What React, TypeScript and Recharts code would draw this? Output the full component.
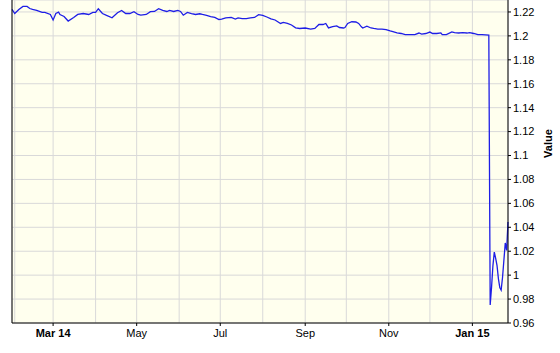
import { CartesianGrid, Line, LineChart, XAxis, YAxis } from "recharts";

const dates = [
  "2014-01-30", "2014-02-01", "2014-02-04", "2014-02-07", "2014-02-10", "2014-02-12",
  "2014-02-14", "2014-02-17", "2014-02-21", "2014-02-23", "2014-02-27", "2014-03-01",
  "2014-03-03", "2014-03-05", "2014-03-06", "2014-03-09", "2014-03-12", "2014-03-16",
  "2014-03-19", "2014-03-23", "2014-03-27", "2014-03-30", "2014-04-01", "2014-04-03",
  "2014-04-06", "2014-04-09", "2014-04-13", "2014-04-17", "2014-04-20", "2014-04-23",
  "2014-04-26", "2014-04-29", "2014-05-02", "2014-05-04", "2014-05-08", "2014-05-11",
  "2014-05-14", "2014-05-17", "2014-05-20", "2014-05-23", "2014-05-25", "2014-05-28",
  "2014-05-31", "2014-06-02", "2014-06-04", "2014-06-07", "2014-06-10", "2014-06-13",
  "2014-06-16", "2014-06-18", "2014-06-21", "2014-06-24", "2014-06-27", "2014-06-30",
  "2014-07-02", "2014-07-05", "2014-07-09", "2014-07-12", "2014-07-14", "2014-07-17",
  "2014-07-20", "2014-07-23", "2014-07-26", "2014-07-29", "2014-08-01", "2014-08-04",
  "2014-08-07", "2014-08-10", "2014-08-14", "2014-08-16", "2014-08-19", "2014-08-22",
  "2014-08-25", "2014-08-28", "2014-09-01", "2014-09-05", "2014-09-08", "2014-09-11",
  "2014-09-14", "2014-09-16", "2014-09-18", "2014-09-21", "2014-09-24", "2014-09-26",
  "2014-09-29", "2014-09-30", "2014-10-02", "2014-10-05", "2014-10-08", "2014-10-10",
  "2014-10-12", "2014-10-13", "2014-10-16", "2014-10-19", "2014-10-21", "2014-10-24",
  "2014-10-27", "2014-10-30", "2014-11-02", "2014-11-04", "2014-11-07", "2014-11-10",
  "2014-11-13", "2014-11-17", "2014-11-20", "2014-11-23", "2014-11-25", "2014-11-28",
  "2014-12-01", "2014-12-03", "2014-12-06", "2014-12-09", "2014-12-10", "2014-12-13",
  "2014-12-17", "2014-12-19", "2014-12-22", "2014-12-25", "2014-12-28", "2014-12-30",
  "2015-01-02", "2015-01-05", "2015-01-08", "2015-01-13", "2015-01-14", "2015-01-15",
  "2015-01-16", "2015-01-17", "2015-01-18", "2015-01-19", "2015-01-20", "2015-01-21",
  "2015-01-22", "2015-01-23", "2015-01-24", "2015-01-25", "2015-01-26", "2015-01-27",
];

const values = [
  1.2221, 1.2187, 1.2221, 1.2246, 1.2246, 1.2229,
  1.2221, 1.2213, 1.2196, 1.2196, 1.2179, 1.2133,
  1.2187, 1.2198, 1.2179, 1.2162, 1.2124, 1.2154,
  1.2179, 1.2187, 1.2179, 1.2196, 1.2196, 1.2227,
  1.2187, 1.2171, 1.2151, 1.2193, 1.2213, 1.2187,
  1.2187, 1.2202, 1.2179, 1.2173, 1.2179, 1.2202,
  1.2204, 1.2227, 1.2213, 1.2204, 1.2213, 1.2204,
  1.2213, 1.2204, 1.2173, 1.2196, 1.2187, 1.2179,
  1.2185, 1.2179, 1.2171, 1.2162, 1.2154, 1.2137,
  1.2141, 1.2151, 1.2154, 1.2141, 1.215, 1.2145,
  1.2145, 1.215, 1.2154, 1.2177, 1.2171, 1.2158,
  1.2143, 1.2133, 1.2104, 1.2112, 1.2104, 1.2091,
  1.2067, 1.2062, 1.2066, 1.2057, 1.2062, 1.2095,
  1.2095, 1.2104, 1.2067, 1.2078, 1.2083, 1.207,
  1.2066, 1.207, 1.2104, 1.2118, 1.2116, 1.2104,
  1.2076, 1.2066, 1.2081, 1.2066, 1.2062, 1.2057,
  1.2057, 1.2053, 1.2041, 1.2036, 1.2025, 1.202,
  1.2011, 1.2011, 1.2011, 1.2024, 1.2015, 1.202,
  1.2032, 1.202, 1.202, 1.2025, 1.2011, 1.2011,
  1.2034, 1.2028, 1.2024, 1.2028, 1.2024, 1.2028,
  1.202, 1.2011, 1.2011, 1.2007, 0.975, 0.99,
  1.008, 1.0193, 1.014, 1.008, 0.997, 0.9897,
  0.9875, 0.998, 1.0124, 1.0269, 1.0207, 1.0445,
];

const tickDates = [
  "2014-02-01", "2014-03-01", "2014-04-01", "2014-05-01", "2014-06-01", "2014-07-01",
  "2014-08-01", "2014-09-01", "2014-10-01", "2014-11-01", "2014-12-01", "2015-01-01",
];
const tickLabels = ["", "Mar 14", "", "May", "", "Jul", "", "Sep", "", "Nov", "", "Jan 15"];

const yTicks = [0.96, 0.98, 1, 1.02, 1.04, 1.06, 1.08, 1.1, 1.12, 1.14, 1.16, 1.18, 1.2, 1.22];

const data = dates.map((d, i) => ({ t: Date.parse(d), value: values[i] }));
const xTicks = tickDates.map((d) => Date.parse(d));

const FONT = "'Liberation Sans', Arial, sans-serif";

function MonthTick(props: any) {
  const { x, y, payload } = props;
  const label = tickLabels[xTicks.indexOf(payload.value)];
  if (!label) return null;
  return (
    <g>
      <line x1={x} x2={x} y1={y} y2={y + 3} stroke="#000" />
      <text
        x={x}
        y={y + 14}
        textAnchor="middle"
        fontSize={11}
        fontFamily={FONT}
        fontWeight={/\d/.test(label) ? "bold" : "normal"}
        fill="#000"
      >
        {label}
      </text>
    </g>
  );
}

function ValueLabel({ viewBox }: any) {
  const cx = viewBox.x + viewBox.width - 12;
  const cy = viewBox.y + viewBox.height / 2 - 18;
  return (
    <text
      x={cx}
      y={cy}
      transform={`rotate(-90 ${cx} ${cy})`}
      textAnchor="middle"
      dominantBaseline="central"
      fontSize={11}
      fontWeight="bold"
      fontFamily={FONT}
      fill="#000"
    >
      Value
    </text>
  );
}

export default function App() {
  return (
    <div style={{ position: "absolute", left: 0, top: 0, width: 560, height: 353, background: "#fff" }}>
      <LineChart width={560} height={353} data={data} margin={{ top: 0, right: 0, bottom: 0, left: 0 }}>
        <CartesianGrid yAxisId="r" fill="#FFFFEE" stroke="#D9D9D9" />
        <XAxis
          dataKey="t"
          type="number"
          domain={["dataMin", "dataMax"]}
          ticks={xTicks}
          interval={0}
          height={30}
          tickSize={0}
          tickMargin={0}
          tickLine={false}
          axisLine={{ stroke: "#000" }}
          tick={<MonthTick />}
        />
        <YAxis
          yAxisId="l"
          orientation="left"
          width={12}
          domain={[0.96, 1.23]}
          tick={false}
          tickLine={false}
          axisLine={{ stroke: "#000" }}
        />
        <YAxis
          yAxisId="r"
          orientation="right"
          width={52}
          domain={[0.96, 1.23]}
          ticks={yTicks}
          interval={0}
          tickSize={3}
          tickMargin={2}
          tickLine={{ stroke: "#000" }}
          axisLine={{ stroke: "#000" }}
          tick={{ fontSize: 11, fill: "#000", fontFamily: FONT }}
          tickFormatter={(v: number) => String(+v.toFixed(2))}
          label={<ValueLabel />}
        />
        <Line
          yAxisId="r"
          type="linear"
          dataKey="value"
          stroke="#1E1EE6"
          strokeWidth={1.3}
          dot={false}
          isAnimationActive={false}
        />
      </LineChart>
    </div>
  );
}
